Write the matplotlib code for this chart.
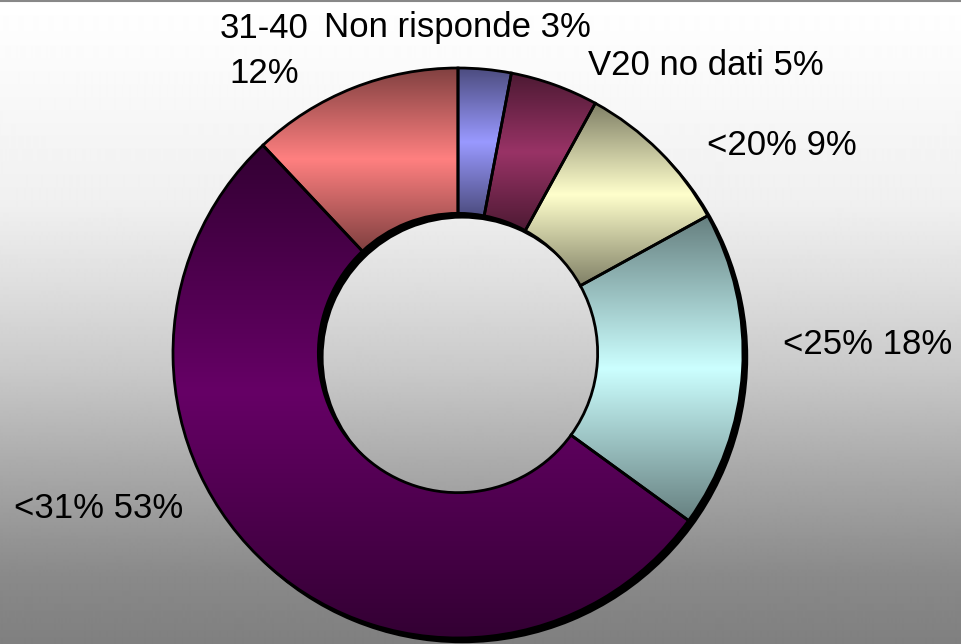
import numpy as np
import matplotlib
matplotlib.use("Agg")
import matplotlib.pyplot as plt
from matplotlib.patches import Wedge
from matplotlib.transforms import ScaledTranslation

plt.rcParams['font.family'] = ['Liberation Sans', 'DejaVu Sans']

# ---- data ----
categories = ['Non risponde', 'V20 no dati', '<20%', '<25%', '<31%', '31-40']
values = [3, 5, 9, 18, 53, 12]
colors = ['#9999ff', '#993366', '#ffffcc', '#ccffff', '#660066', '#ff8080']
label_texts = ['Non risponde 3%', 'V20 no dati 5%', '<20% 9%', '<25% 18%',
               '<31% 53%', '31-40\n12%']
# label anchor positions in pixels (x left / center, baseline y of last line)
label_px = [(324, 37, 'left'), (588, 75, 'left'), (707, 155, 'left'),
            (783, 354, 'left'), (14, 518, 'left'), (264, 83, 'center')]

W, H = 961, 644
DPI = 100
fig = plt.figure(figsize=(W / DPI, H / DPI), dpi=DPI)

# ---- background gradient ----
bg = fig.add_axes([0, 0, 1, 1], zorder=-10)
yy = np.arange(H)
vv = np.interp(yy, [0, 40, 205, 288, 370, 472, 575, 644],
               [1.0, 0.99, 0.94, 0.87, 0.79, 0.66, 0.54, 0.5])
grad = np.repeat(vv[:, None], 2, axis=1)
bg.imshow(grad, cmap='gray', vmin=0, vmax=1, aspect='auto',
          extent=[0, 1, 0, 1], origin='upper', interpolation='bilinear')
bg.plot([0, 1], [0.999, 0.999], color='#888888', lw=1.5)
bg.set_xlim(0, 1)
bg.set_ylim(0, 1)
bg.axis('off')

# ---- donut ----
cx, cy, R = 458, 353, 285
half = 300
ax = fig.add_axes([(cx - half) / W, (H - cy - half) / H, 2 * half / W, 2 * half / H])
ax.patch.set_alpha(0)
lim = half / R
ring_w = 0.51

wedges, _ = ax.pie(values, colors=colors, startangle=90, counterclock=False,
                   radius=1, wedgeprops=dict(width=ring_w, edgecolor='none'))

# shadow of whole ring
shadow_tr = ax.transData + ScaledTranslation(3 / 72, -3 / 72, fig.dpi_scale_trans)
sh = Wedge((0, 0), 1.0, 0, 360, width=ring_w, facecolor='black', edgecolor='black',
           lw=1.5, transform=shadow_tr, zorder=0.5)
ax.add_patch(sh)

for w, c in zip(wedges, colors):
    w.set_zorder(1)
    ext = w.get_path().get_extents()
    x0, y0, x1, y1 = ext.x0, ext.y0, ext.x1, ext.y1
    n = 256
    t = np.linspace(0, 1, n)
    f = 1 - 0.5 * np.abs(2 * t - 1)
    base = np.array(matplotlib.colors.to_rgb(c))
    img = (f[:, None, None] * base[None, None, :]).repeat(2, axis=1)
    im = ax.imshow(img, extent=[x0, x1, y0, y1], origin='lower', aspect='auto',
                   interpolation='bilinear', zorder=2)
    im.set_clip_path(w)
    ax.add_patch(Wedge(w.center, w.r, w.theta1, w.theta2, width=w.width,
                       fill=False, edgecolor='black', lw=2, zorder=3))

ax.set_xlim(-lim, lim)
ax.set_ylim(-lim, lim)
ax.set_aspect('equal')
ax.axis('off')

# ---- labels ----
for txt, (px, py, ha) in zip(label_texts, label_px):
    fig.text(px / W, 1 - py / H, txt, ha=ha, va='baseline', fontsize=25,
             color='black', multialignment='center', linespacing=1.45)

fig.savefig('out.png', dpi=DPI)
